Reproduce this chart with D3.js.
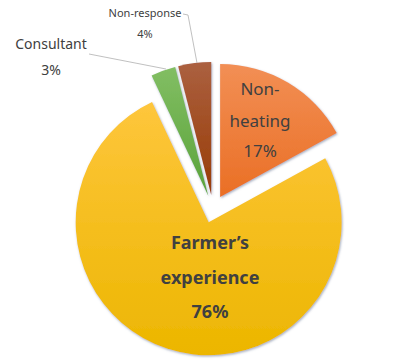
<!DOCTYPE html>
<meta charset="utf-8">
<html>
<head>
  <title>Heating decision basis</title>
  <style>
    body { margin: 0; background: #fff; }
    svg { width: 416px; height: 364px; display: block; }
    text { font-family: 'Noto Sans', 'Open Sans', sans-serif; fill: #404040; }
    .inlabel { text-anchor: middle; dominant-baseline: central; }
    .outlabel { text-anchor: middle; dominant-baseline: central; }
    .leader { fill: none; stroke: #b0b0b0; stroke-width: 0.8; }
  </style>
  <script src="https://d3js.org/d3.v7.min.js"></script>
</head>
<body>
  <svg></svg>
  <script>
    // data (clockwise from 12 o'clock)
    var categories = ["Non-heating", "Farmer\u2019s experience", "Consultant", "Non-response"];
    var shares = [17, 76, 3, 4];
    var labelLines = [["Non-", "heating", "17%"], ["Farmer\u2019s", "experience", "76%"], ["Consultant", "3%"], ["Non-response", "4%"]];

    // gradient stops per slice, top to bottom
    var colours = [
      ["#f28f55", "#ea6f25"],
      ["#fec63c", "#ecb600"],
      ["#82be63", "#5aa33a"],
      ["#ab6040", "#983c05"]
    ];

    var svg = d3.select("svg");
    var cx = 213, cy = 209, radius = 133, explode = 14;

    var defs = svg.append("defs");
    var shadow = defs.append("filter").attr("id", "shadow")
      .attr("x", "-10%").attr("y", "-10%").attr("width", "120%").attr("height", "120%");
    shadow.append("feDropShadow")
      .attr("dx", 0.8).attr("dy", 1.2).attr("stdDeviation", 1)
      .attr("flood-color", "#5a6a8a").attr("flood-opacity", 0.55);

    colours.forEach(function(c, i) {
      var lg = defs.append("linearGradient").attr("id", "grad" + i)
        .attr("x1", 0).attr("y1", 0).attr("x2", 0).attr("y2", 1);
      lg.append("stop").attr("offset", "0%").attr("stop-color", c[0]);
      lg.append("stop").attr("offset", "100%").attr("stop-color", c[1]);
    });

    var pie = d3.pie().sort(null).value(function(d) { return d; });
    var arc = d3.arc().innerRadius(0).outerRadius(radius);
    var arcs = pie(shares);

    var g = svg.append("g").attr("transform", "translate(" + cx + "," + cy + ")");

    // each slice pulled out along its bisector
    function offset(d) {
      var a = (d.startAngle + d.endAngle) / 2;
      return [explode * Math.sin(a), -explode * Math.cos(a)];
    }

    var slices = g.selectAll(".slice")
      .data(arcs)
      .enter().append("g")
        .attr("class", "slice")
        .attr("transform", function(d) { var o = offset(d); return "translate(" + o[0] + "," + o[1] + ")"; });

    slices.append("path")
      .attr("d", arc)
      .attr("fill", function(d, i) { return "url(#grad" + i + ")"; })
      .attr("filter", "url(#shadow)");

    // labels inside the two big slices
    var inside = [
      { i: 0, x: 260, y: [88, 120, 150], size: 17, weight: "normal" },
      { i: 1, x: 210, y: [242, 277, 311], size: 18, weight: "bold" }
    ];
    inside.forEach(function(l) {
      labelLines[l.i].forEach(function(line, k) {
        svg.append("text")
          .attr("class", "inlabel")
          .attr("x", l.x).attr("y", l.y[k])
          .style("font-size", l.size + "px")
          .style("font-weight", l.weight)
          .text(line);
      });
    });

    // outside labels with leader lines for the small slices
    var outside = [
      { i: 2, x: 51, y: [43, 69], size: 14, line: [[89, 54], [166, 69]] },
      { i: 3, x: 145, y: [12, 33], size: 11, line: [[183, 14], [188, 15], [197, 63]] }
    ];
    outside.forEach(function(l) {
      svg.append("path")
        .attr("class", "leader")
        .attr("d", d3.line()(l.line));
      labelLines[l.i].forEach(function(line, k) {
        svg.append("text")
          .attr("class", "outlabel")
          .attr("x", l.x).attr("y", l.y[k])
          .style("font-size", l.size + "px")
          .text(line);
      });
    });
  </script>
</body>
</html>
